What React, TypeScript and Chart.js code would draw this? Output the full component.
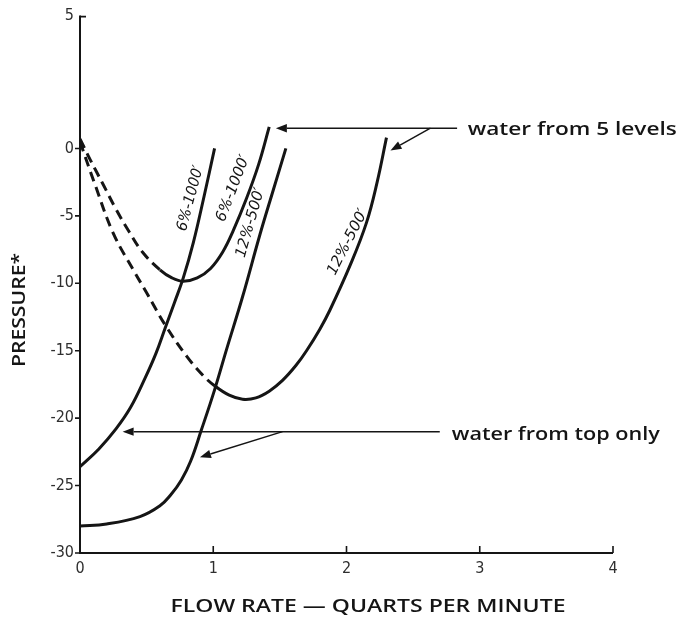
import React, { useEffect, useRef } from "react";
import { Chart, registerables } from "chart.js";

Chart.register(...registerables);

// ---- axes ----
const X_TICKS = [0, 1, 2, 3, 4];
const X_TICK_LABELS = ["0", "1", "2", "3", "4"];
const Y_TICKS = [-30, -25, -20, -15, -10, -5, 0];
const Y_TICK_LABELS = ["-30", "-25", "-20", "-15", "-10", "-5", "0"];
const Y_TOP_LABEL = "5"; // the original axis is broken above 0; its top end is labelled 5
const Y_MIN = -30;
const Y_MAX = 9.85;

// ---- series ----
// 6%-1000' water from top only
const TOP6_X = [0, 0.14, 0.27, 0.38, 0.49, 0.57, 0.64, 0.71, 0.775, 0.85, 0.93, 1.01];
const TOP6_Y = [-23.6, -22.3, -20.8, -19.2, -17.0, -15.2, -13.3, -11.4, -9.6, -7.0, -3.6, 0];
// 6%-1000' water from 5 levels
const LV6_X = [0, 0.08, 0.17, 0.27, 0.37, 0.47, 0.6, 0.69, 0.775, 0.88, 0.98, 1.07, 1.15, 1.25, 1.34, 1.42];
const LV6_Y = [0.7, -0.9, -2.6, -4.5, -6.2, -7.7, -9.0, -9.6, -9.85, -9.6, -8.9, -7.7, -6.1, -3.7, -1.2, 1.6];
const LV6_DASH_END = 0.6;
// 12%-500' water from top only
const TOP12_X = [0, 0.2, 0.45, 0.6, 0.68, 0.76, 0.83, 0.91, 1.01, 1.1, 1.22, 1.35, 1.45, 1.545];
const TOP12_Y = [-28, -27.85, -27.3, -26.5, -25.7, -24.6, -23.2, -20.9, -17.9, -14.9, -11.0, -6.4, -3.1, 0];
// 12%-500' water from 5 levels
const LV12_X = [0, 0.11, 0.25, 0.4, 0.5, 0.64, 0.8, 0.92, 1.01, 1.12, 1.22, 1.32, 1.42, 1.52, 1.62, 1.7, 1.8, 1.875, 2.03, 2.15, 2.23, 2.3];
const LV12_Y = [0.5, -2.6, -6.3, -9.0, -10.7, -13.1, -15.4, -16.8, -17.6, -18.3, -18.6, -18.5, -18.0, -17.2, -16.1, -15.0, -13.4, -12.0, -8.6, -5.5, -2.5, 0.8];
const LV12_DASH_END = 1.01;

// ---- curve labels ----
const CURVE_LABELS = ["6%-1000\u2032", "6%-1000\u2032", "12%-500\u2032", "12%-500\u2032"];
const CURVE_LABEL_X = [0.83, 1.15, 1.28, 2.01];
const CURVE_LABEL_Y = [-3.7, -2.96, -5.5, -6.95];
const CURVE_LABEL_ANGLE = [-75, -69, -74, -63];
const CURVE_LABEL_WIDTH = [67, 70, 72, 72];

// ---- annotations (data coordinates) ----
const NOTE_TEXTS = ["water from 5 levels", "water from top only"];
const NOTE_X = [2.91, 2.79];
const NOTE_Y = [1.0, -21.6];
const NOTE_WIDTH = [209, 208];
// arrows: [tailX, tailY, tipX, tipY]
const ARROWS = [
  [2.83, 1.5, 1.47, 1.5],
  [2.63, 1.5, 2.33, -0.15],
  [2.7, -21.0, 0.32, -21.0],
  [1.52, -21.0, 0.9, -22.9],
];

const X_TITLE = "FLOW RATE \u2014 QUARTS PER MINUTE";
const Y_TITLE = "PRESSURE*";

const INK = "#151515";
const TICK_FONT = "'DejaVu Sans Condensed', 'DejaVu Sans', sans-serif";

function pts(xs: number[], ys: number[]) {
  return xs.map((x, i) => ({ x, y: ys[i] }));
}

function fitText(ctx: CanvasRenderingContext2D, text: string, x: number, y: number, width: number, align: "left" | "center") {
  const w = ctx.measureText(text).width;
  const s = width / w;
  ctx.save();
  ctx.translate(x, y);
  ctx.scale(s, 1);
  ctx.textAlign = align;
  ctx.fillText(text, 0, 0);
  ctx.restore();
}

function arrow(ctx: CanvasRenderingContext2D, x1: number, y1: number, x2: number, y2: number) {
  const ang = Math.atan2(y2 - y1, x2 - x1);
  const len = 11;
  const hw = 4.2;
  const bx = x2 - Math.cos(ang) * len;
  const by = y2 - Math.sin(ang) * len;
  ctx.beginPath();
  ctx.moveTo(x1, y1);
  ctx.lineTo(bx, by);
  ctx.stroke();
  ctx.beginPath();
  ctx.moveTo(x2, y2);
  ctx.lineTo(bx - Math.sin(ang) * hw, by + Math.cos(ang) * hw);
  ctx.lineTo(bx + Math.sin(ang) * hw, by - Math.cos(ang) * hw);
  ctx.closePath();
  ctx.fill();
}

const overlay = {
  id: "overlay",
  afterDraw(chart: any) {
    const { ctx, chartArea: a } = chart;
    const xs = chart.scales.x;
    const ys = chart.scales.y;
    ctx.save();
    ctx.strokeStyle = INK;
    ctx.fillStyle = INK;
    ctx.lineCap = "butt";

    // axis lines
    ctx.lineWidth = 2;
    ctx.beginPath();
    ctx.moveTo(a.left, a.top);
    ctx.lineTo(a.left, a.bottom);
    ctx.lineTo(a.right, a.bottom);
    ctx.stroke();

    // tick marks
    ctx.lineWidth = 1.6;
    ctx.beginPath();
    Y_TICKS.forEach((v) => {
      const py = ys.getPixelForValue(v);
      ctx.moveTo(a.left - 5, py);
      ctx.lineTo(a.left, py);
    });
    ctx.moveTo(a.left, a.top + 1);
    ctx.lineTo(a.left + 6, a.top + 1);
    X_TICKS.slice(1).forEach((v) => {
      const px = xs.getPixelForValue(v);
      ctx.moveTo(px, a.bottom);
      ctx.lineTo(px, a.bottom - 7);
    });
    ctx.stroke();

    // arrows
    ctx.lineWidth = 1.5;
    ARROWS.forEach(([tx, ty, hx, hy]) => {
      arrow(ctx, xs.getPixelForValue(tx), ys.getPixelForValue(ty), xs.getPixelForValue(hx), ys.getPixelForValue(hy));
    });

    // annotation texts
    ctx.font = "600 18px 'Open Sans', sans-serif";
    ctx.textBaseline = "alphabetic";
    NOTE_TEXTS.forEach((t, i) => {
      fitText(ctx, t, xs.getPixelForValue(NOTE_X[i]), ys.getPixelForValue(NOTE_Y[i]), NOTE_WIDTH[i], "left");
    });

    // curve labels
    ctx.font = "italic 15px 'DejaVu Sans Condensed', sans-serif";
    ctx.textBaseline = "middle";
    CURVE_LABELS.forEach((t, i) => {
      const px = xs.getPixelForValue(CURVE_LABEL_X[i]);
      const py = ys.getPixelForValue(CURVE_LABEL_Y[i]);
      ctx.save();
      ctx.translate(px, py);
      ctx.rotate((CURVE_LABEL_ANGLE[i] * Math.PI) / 180);
      fitText(ctx, t, 0, 0, CURVE_LABEL_WIDTH[i], "center");
      ctx.restore();
    });

    // axis titles
    ctx.font = "600 18px 'Open Sans', sans-serif";
    ctx.textBaseline = "middle";
    fitText(ctx, X_TITLE, 368, 607, 395, "center");
    ctx.save();
    ctx.translate(20, 310);
    ctx.rotate(-Math.PI / 2);
    fitText(ctx, Y_TITLE, 0, 0, 114, "center");
    ctx.restore();

    ctx.restore();
  },
};

export default function App() {
  const ref = useRef<HTMLCanvasElement | null>(null);

  useEffect(() => {
    if (!ref.current) return;
    const line = {
      showLine: true,
      pointRadius: 0,
      borderColor: INK,
      backgroundColor: INK,
      borderWidth: 3,
      tension: 0.4,
      fill: false,
    };
    const chart = new Chart(ref.current, {
      type: "scatter",
      data: {
        datasets: [
          { ...line, label: "6%-1000' top only", data: pts(TOP6_X, TOP6_Y) },
          {
            ...line,
            label: "6%-1000' 5 levels",
            data: pts(LV6_X, LV6_Y),
            segment: { borderDash: (c: any) => (c.p1.parsed.x <= LV6_DASH_END + 1e-9 ? [10, 6] : undefined) },
          },
          { ...line, label: "12%-500' top only", data: pts(TOP12_X, TOP12_Y) },
          {
            ...line,
            label: "12%-500' 5 levels",
            data: pts(LV12_X, LV12_Y),
            segment: { borderDash: (c: any) => (c.p1.parsed.x <= LV12_DASH_END + 1e-9 ? [10, 6] : undefined) },
          },
        ],
      },
      options: {
        animation: false,
        responsive: false,
        devicePixelRatio: 1,
        layout: { padding: { top: 15, right: 65, left: 0, bottom: 0 } },
        plugins: { legend: { display: false }, tooltip: { enabled: false } },
        scales: {
          x: {
            type: "linear",
            min: 0,
            max: 4,
            afterBuildTicks: (s: any) => {
              s.ticks = X_TICKS.map((v) => ({ value: v }));
            },
            afterFit: (s: any) => {
              s.height = 67;
            },
            ticks: {
              autoSkip: false,
              maxRotation: 0,
              padding: 6,
              color: "#2e2e2e",
              font: { family: TICK_FONT, size: 16 },
              callback: (_v: any, i: number) => X_TICK_LABELS[i],
            },
            grid: { display: false, drawTicks: false },
            border: { display: false },
          },
          y: {
            type: "linear",
            min: Y_MIN,
            max: Y_MAX,
            afterBuildTicks: (s: any) => {
              s.ticks = [...Y_TICKS, Y_MAX].map((v) => ({ value: v }));
            },
            afterFit: (s: any) => {
              s.width = 80;
            },
            ticks: {
              autoSkip: false,
              padding: 6,
              color: "#2e2e2e",
              font: { family: TICK_FONT, size: 16 },
              callback: (_v: any, i: number) => (i < Y_TICK_LABELS.length ? Y_TICK_LABELS[i] : Y_TOP_LABEL),
            },
            grid: { display: false, drawTicks: false },
            border: { display: false },
          },
        },
      },
      plugins: [overlay],
    });
    return () => chart.destroy();
  }, []);

  return (
    <div style={{ position: "fixed", left: 0, top: 0, width: 678, height: 620, background: "#fff" }}>
      <canvas ref={ref} width={678} height={620} style={{ width: 678, height: 620, display: "block" }} />
    </div>
  );
}
